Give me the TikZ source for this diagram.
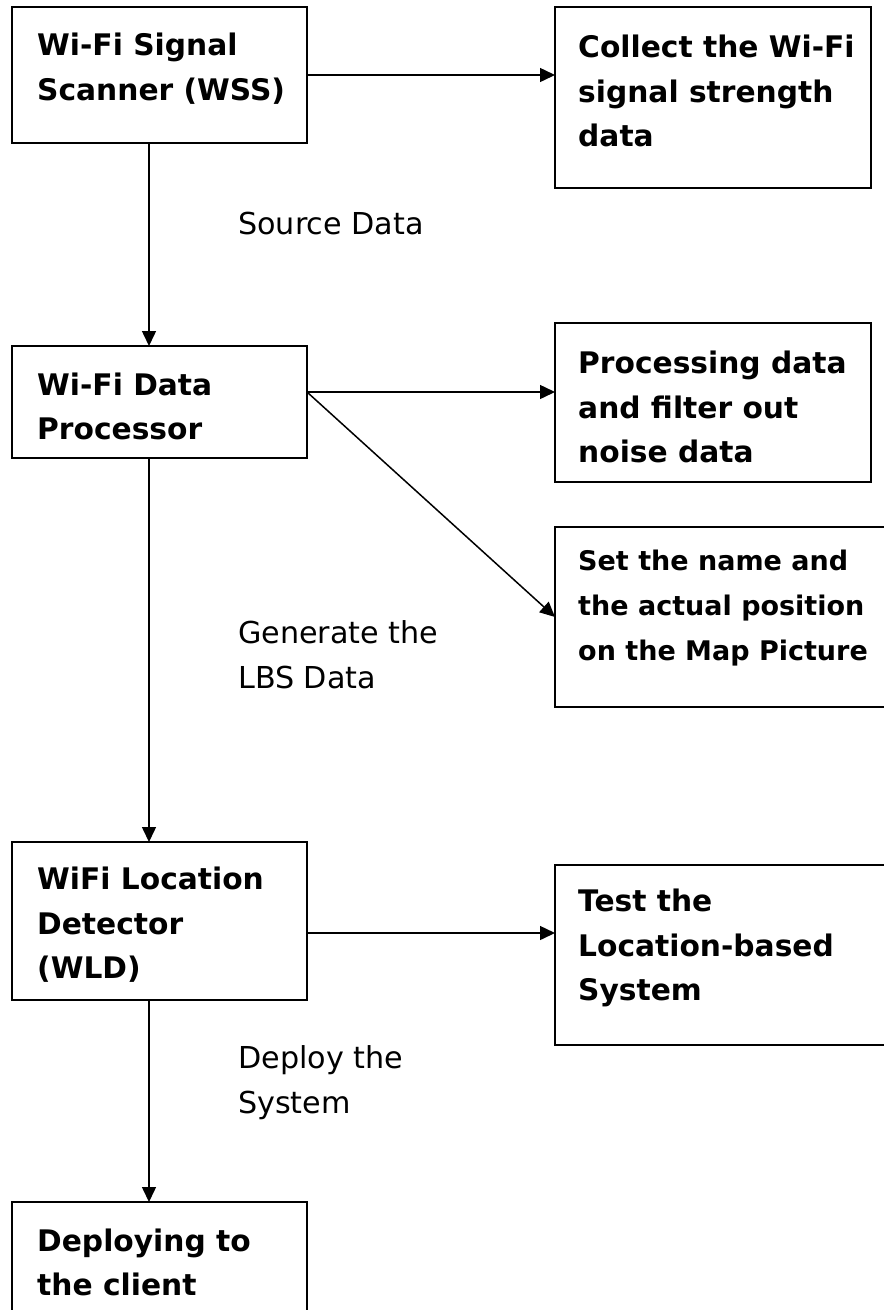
\documentclass[tikz,border=0pt]{standalone}
\usepackage{fontspec}
\setmainfont{DejaVu Sans}
\usetikzlibrary{arrows.meta,calc}
\begin{document}
\begin{tikzpicture}[x=1pt,y=-1pt,
  box/.style={draw, line width=2pt, inner sep=0pt, outer sep=0pt, anchor=north west},
  boxtext/.style={anchor=west, align=left, inner sep=0pt, font=\bfseries\fontsize{29.7}{44.5}\selectfont},
  smalltext/.style={anchor=west, align=left, inner sep=0pt, font=\bfseries\fontsize{27}{45}\selectfont},
  flowlabel/.style={anchor=west, align=left, inner sep=0pt, font=\fontsize{30.2}{45}\selectfont},
  arr/.style={line width=1.5pt, -{Triangle[length=15pt,width=14pt]}}]
\useasboundingbox (0,0) rectangle (884,1310);
\clip (0,0) rectangle (884,1310);

% main column
\node[box, minimum width=295pt, minimum height=136pt] (wss) at (12,7) {};
\node[box, minimum width=295pt, minimum height=112pt] (proc) at (12,346) {};
\node[box, minimum width=295pt, minimum height=158pt] (wld) at (12,842) {};
\node[box, minimum width=295pt, minimum height=140pt] (deploy) at (12,1202) {};

% side tasks
\node[box, minimum width=316pt, minimum height=181pt] (collect) at (555,7) {};
\node[box, minimum width=316pt, minimum height=159pt] (filter) at (555,323) {};
\node[box, minimum width=360pt, minimum height=180pt] (mapset) at (555,527) {};
\node[box, minimum width=360pt, minimum height=180pt] (test) at (555,865) {};

% box texts
\node[boxtext] (twss) at (37,68.5) {Wi-Fi Signal\\Scanner (WSS)};
\node[boxtext] (tproc) at (37,406.5) {Wi-Fi Data\\Processor};
\node[boxtext] (twld) at (37,925) {WiFi Location\\Detector\\(WLD)};
\node[boxtext] (tdeploy) at (37,1262.5) {Deploying to\\the client};
\node[boxtext] (tcollect) at (578,91) {Collect the Wi-Fi\\signal strength\\data};
\node[boxtext] (tfilter) at (578,407) {Processing data\\and filter out\\noise data};
\node[smalltext] (tmapset) at (578,608) {Set the name and\\the actual position\\on the Map Picture};
\node[boxtext] (ttest) at (578,948) {Test the\\Location-based\\System};

% flow labels
\node[flowlabel] (lsrc) at (238,224) {Source Data};
\node[flowlabel] (llbs) at (238,654.5) {Generate the\\LBS Data};
\node[flowlabel] (ldep) at (238,1082.5) {Deploy the\\System};

% connectors down the main column
\draw[arr] ([xshift=-10.5pt]wss.south) -- ([xshift=-10.5pt]proc.north);
\draw[arr] ([xshift=-10.5pt]proc.south) -- ([xshift=-10.5pt]wld.north);
\draw[arr] ([xshift=-10.5pt]wld.south) -- ([xshift=-10.5pt]deploy.north);

% connectors to the side tasks
\draw[arr] (wss.east) -- (wss.east -| collect.west);
\draw[arr] ([yshift=10pt]proc.east) coordinate (pout) -- (pout -| filter.west);
\draw[arr] (pout) -- (mapset.west);
\draw[arr] ([yshift=-12pt]wld.east) coordinate (wout) -- (wout -| test.west);
\end{tikzpicture}
\end{document}
